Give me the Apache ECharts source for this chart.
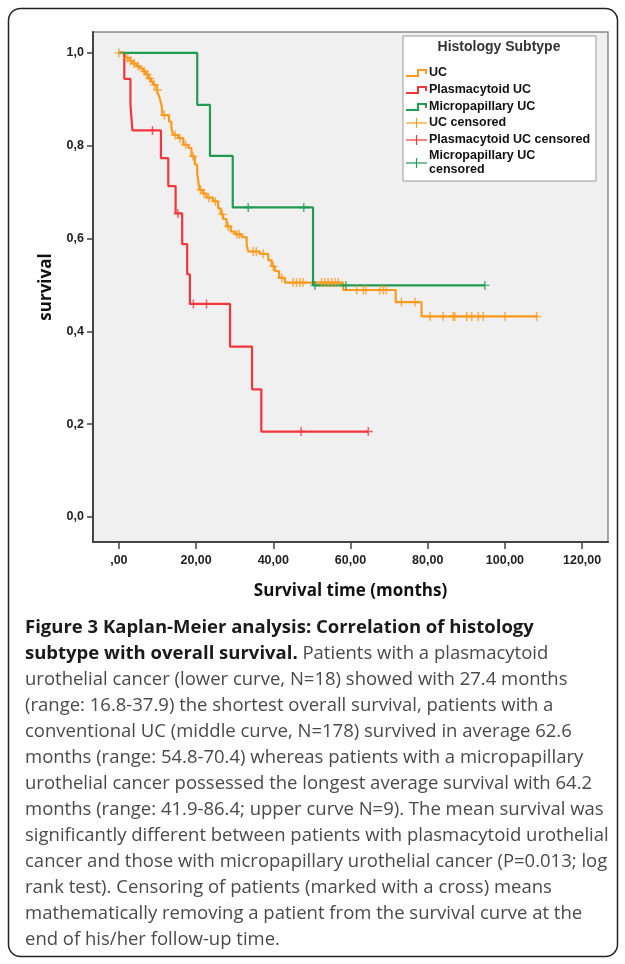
<!DOCTYPE html>
<html>
<head>
<meta charset="utf-8">
<script src="https://cdn.jsdelivr.net/npm/echarts@6/dist/echarts.min.js"></script>
<style>
  html, body { margin: 0; padding: 0; background: #fff; }
  #chart { width: 625px; height: 964px; }
</style>
</head>
<body>
<div id="chart"></div>
<script>
// ── Axis ticks
const xTicks = [0, 20, 40, 60, 80, 100, 120];
const xTickLabels = [",00", "20,00", "40,00", "60,00", "80,00", "100,00", "120,00"];
const yTicks = [0, 0.2, 0.4, 0.6, 0.8, 1.0];
const yTickLabels = ["0,0", "0,2", "0,4", "0,6", "0,8", "1,0"];

// ── Kaplan-Meier steps [months, survival]
const ucSteps = [
  [0, 1.0], [1.5, 0.994], [2.0, 0.989], [2.8, 0.983], [3.5, 0.977], [4.6, 0.971],
  [5.5, 0.966], [6.3, 0.960], [7.0, 0.954], [7.6, 0.945], [8.3, 0.938], [8.9, 0.931],
  [9.8, 0.920], [10.2, 0.911], [10.6, 0.902], [11.1, 0.885], [11.3, 0.866], [13.0, 0.852],
  [13.6, 0.838], [14.1, 0.823], [15.4, 0.816], [16.7, 0.802], [18.0, 0.795], [18.8, 0.777],
  [19.7, 0.759], [20.3, 0.741], [20.6, 0.722], [20.9, 0.705], [21.8, 0.697], [22.7, 0.688],
  [24.4, 0.680], [25.7, 0.665], [26.4, 0.652], [27.0, 0.642], [27.9, 0.626], [29.0, 0.615],
  [30.1, 0.609], [31.8, 0.603], [33.1, 0.586], [33.5, 0.572], [36.5, 0.567], [38.7, 0.553],
  [39.6, 0.540], [40.4, 0.530], [41.5, 0.515], [43.0, 0.505], [58.1, 0.489], [71.7, 0.463],
  [78.4, 0.432], [108.4, 0.432]
];
const ucCensored = [
  [0, 1.0], [2.3, 0.989], [3.0, 0.983], [4.0, 0.977], [5.0, 0.971], [6.6, 0.960],
  [7.3, 0.954], [8.0, 0.945], [9.2, 0.931], [10.0, 0.920], [11.8, 0.866], [14.6, 0.823],
  [15.8, 0.816], [17.3, 0.802], [19.2, 0.777], [21.2, 0.705], [22.0, 0.697], [23.3, 0.688],
  [25.0, 0.680], [26.8, 0.652], [28.3, 0.626], [30.6, 0.609], [31.2, 0.609], [34.8, 0.572],
  [35.6, 0.572], [37.4, 0.567], [40.0, 0.540], [42.2, 0.515],
  [45.1, 0.505], [46.0, 0.505], [46.9, 0.505], [47.7, 0.505], [52.5, 0.505], [53.4, 0.505],
  [54.2, 0.505], [55.1, 0.505], [56.0, 0.505], [56.8, 0.505],
  [61.6, 0.489], [63.3, 0.489], [64.0, 0.489], [67.6, 0.489], [68.5, 0.489], [69.2, 0.489],
  [73.2, 0.463], [76.7, 0.463],
  [80.6, 0.432], [84.0, 0.432], [86.6, 0.432], [87.0, 0.432], [90.1, 0.432], [91.4, 0.432],
  [93.1, 0.432], [94.4, 0.432], [100.0, 0.432], [108.2, 0.432]
];

const plasmaSteps = [
  [0, 1.0], [1.4, 0.944], [3.0, 0.889], [3.5, 0.833], [10.9, 0.773], [12.8, 0.713],
  [14.7, 0.654], [16.4, 0.588], [17.7, 0.523], [18.4, 0.459], [28.8, 0.367], [34.5, 0.275],
  [36.9, 0.184], [64.6, 0.184]
];
const plasmaCensored = [
  [8.7, 0.833], [15.3, 0.654], [19.3, 0.459], [22.7, 0.459], [47.2, 0.184], [64.6, 0.184]
];

const microSteps = [
  [0, 1.0], [20.3, 0.888], [23.6, 0.778], [29.5, 0.667], [50.3, 0.499], [94.8, 0.499]
];
const microCensored = [
  [33.5, 0.667], [47.9, 0.667], [50.8, 0.499], [58.8, 0.499], [94.8, 0.499]
];

const legendTitle = "Histology Subtype";
const legendLines = ["UC", "Plasmacytoid UC", "Micropapillary UC"];
const legendCensored = ["UC censored", "Plasmacytoid UC censored", "Micropapillary UC\ncensored"];

const captionLines = [
  [["b", "Figure 3 Kaplan-Meier analysis: Correlation of histology"]],
  [["b", "subtype with overall survival."], ["n", " Patients with a plasmacytoid"]],
  [["n", "urothelial cancer (lower curve, N=18) showed with 27.4 months"]],
  [["n", "(range: 16.8-37.9) the shortest overall survival, patients with a"]],
  [["n", "conventional UC (middle curve, N=178) survived in average 62.6"]],
  [["n", "months (range: 54.8-70.4) whereas patients with a micropapillary"]],
  [["n", "urothelial cancer possessed the longest average survival with 64.2"]],
  [["n", "months (range: 41.9-86.4; upper curve N=9). The mean survival was"]],
  [["n", "significantly different between patients with plasmacytoid urothelial"]],
  [["n", "cancer and those with micropapillary urothelial cancer (P=0.013; log"]],
  [["n", "rank test). Censoring of patients (marked with a cross) means"]],
  [["n", "mathematically removing a patient from the survival curve at the"]],
  [["n", "end of his/her follow-up time."]]
];

const COLORS = { uc: "#fb9a1c", plasma: "#f2363e", micro: "#219a52" };
const PLUS = "path://M4.2,0H5.8V4.2H10V5.8H5.8V10H4.2V5.8H0V4.2H4.2Z";
const AXIS_FONT = "Liberation Sans";

const chart = echarts.init(document.getElementById("chart"), null, { renderer: "canvas" });

function labelFor(ticks, labels) {
  return (v) => {
    const i = ticks.findIndex((t) => Math.abs(t - v) < 1e-6);
    return i >= 0 ? labels[i] : "";
  };
}

// legend drawn by hand so the step icon looks like SPSS
function legendGraphic() {
  const x0 = 403, y0 = 36;
  const els = [
    { type: "rect", shape: { x: x0, y: y0, width: 193, height: 145 },
      style: { fill: "#fff", stroke: "#9a9a9a", lineWidth: 1 } },
    { type: "text", x: x0 + 96, y: y0 + 11,
      style: { text: legendTitle, fill: "#333", font: "bold 14px " + AXIS_FONT, align: "center", verticalAlign: "middle" } }
  ];
  const cols = [COLORS.uc, COLORS.plasma, COLORS.micro];
  const rowsY = [73, 90, 107, 123, 140, 163];
  legendLines.forEach((t, i) => {
    const y = rowsY[i];
    els.push({ type: "polyline", shape: { points: [[406, y + 3], [418, y + 3], [418, y - 3], [426, y - 3], [426, y + 1]] },
      style: { stroke: cols[i], lineWidth: 2, fill: null } });
    els.push({ type: "text", x: 429, y: y,
      style: { text: t, fill: "#111", font: "bold 12.5px " + AXIS_FONT, verticalAlign: "middle" } });
  });
  legendCensored.forEach((t, i) => {
    const y = rowsY[3 + i];
    els.push({ type: "line", shape: { x1: 406, y1: y, x2: 427, y2: y }, style: { stroke: cols[i], lineWidth: 1.2 } });
    els.push({ type: "line", shape: { x1: 416.5, y1: y - 5, x2: 416.5, y2: y + 5 }, style: { stroke: cols[i], lineWidth: 1.2 } });
    els.push({ type: "text", x: 429, y: y,
      style: { text: t, fill: "#111", font: "bold 12.5px " + AXIS_FONT, verticalAlign: "middle", lineHeight: 14 } });
  });
  return els;
}

function captionGraphic() {
  const els = [];
  captionLines.forEach((parts, i) => {
    const text = parts.map(([k, s]) => `{${k}|${s}}`).join("");
    els.push({
      type: "text", x: 25, y: 628 + i * 26,
      style: {
        text,
        verticalAlign: "middle",
        rich: {
          b: { font: "bold 18.5px 'Open Sans'", fill: "#1a1a1a" },
          n: { font: "18.5px 'Open Sans'", fill: "#4a4a4a" }
        }
      }
    });
  });
  return els;
}

const option = {
  animation: false,
  backgroundColor: "#fff",
  grid: {
    left: 93, top: 32, right: 17, bottom: 422,
    show: true, backgroundColor: "#f0f0f0", borderColor: "#8a8a8a", borderWidth: 1.5
  },
  xAxis: {
    type: "value",
    min: -6.7, max: 126.7,
    name: "Survival time (months)",
    nameLocation: "middle",
    nameGap: 41,
    nameTextStyle: { fontFamily: "Open Sans", fontWeight: "bold", fontSize: 17, color: "#111" },
    axisLine: { show: true, onZero: false, lineStyle: { color: "#444", width: 2 } },
    axisTick: { show: true, customValues: xTicks, length: 7, lineStyle: { color: "#444", width: 1.5 } },
    axisLabel: {
      customValues: xTicks, formatter: labelFor(xTicks, xTickLabels), margin: 12,
      fontFamily: AXIS_FONT, fontSize: 12.5, fontWeight: "bold", color: "#222"
    },
    splitLine: { show: false }
  },
  yAxis: {
    type: "value",
    min: -0.054, max: 1.045,
    name: "survival",
    nameLocation: "middle",
    nameGap: 38,
    nameTextStyle: { fontFamily: "Open Sans", fontWeight: "bold", fontSize: 17, color: "#111" },
    axisLine: { show: true, onZero: false, lineStyle: { color: "#444", width: 2 } },
    axisTick: { show: true, customValues: yTicks, length: 6, lineStyle: { color: "#444", width: 1.5 } },
    axisLabel: {
      customValues: yTicks, formatter: labelFor(yTicks, yTickLabels), margin: 9,
      fontFamily: AXIS_FONT, fontSize: 12.5, fontWeight: "bold", color: "#222"
    },
    splitLine: { show: false }
  },
  series: [
    { name: "UC", type: "line", step: "end", data: ucSteps, symbol: "none",
      lineStyle: { color: COLORS.uc, width: 2.2 }, z: 2 },
    { name: "Plasmacytoid UC", type: "line", step: "end", data: plasmaSteps, symbol: "none",
      lineStyle: { color: COLORS.plasma, width: 2.2 }, z: 3 },
    { name: "Micropapillary UC", type: "line", step: "end", data: microSteps, symbol: "none",
      lineStyle: { color: COLORS.micro, width: 2.2 }, z: 4 },
    { name: "UC censored", type: "scatter", data: ucCensored, symbol: PLUS, symbolSize: 9,
      itemStyle: { color: COLORS.uc }, z: 5 },
    { name: "Plasmacytoid UC censored", type: "scatter", data: plasmaCensored, symbol: PLUS, symbolSize: 9,
      itemStyle: { color: COLORS.plasma }, z: 5 },
    { name: "Micropapillary UC censored", type: "scatter", data: microCensored, symbol: PLUS, symbolSize: 9,
      itemStyle: { color: COLORS.micro }, z: 6 }
  ],
  graphic: [
    { type: "rect", shape: { x: 8.5, y: 8.5, width: 609, height: 948, r: 12 },
      style: { fill: null, stroke: "#222", lineWidth: 1.5 }, z: -10 },
    ...legendGraphic(),
    ...captionGraphic()
  ]
};

chart.setOption(option);
</script>
</body>
</html>
